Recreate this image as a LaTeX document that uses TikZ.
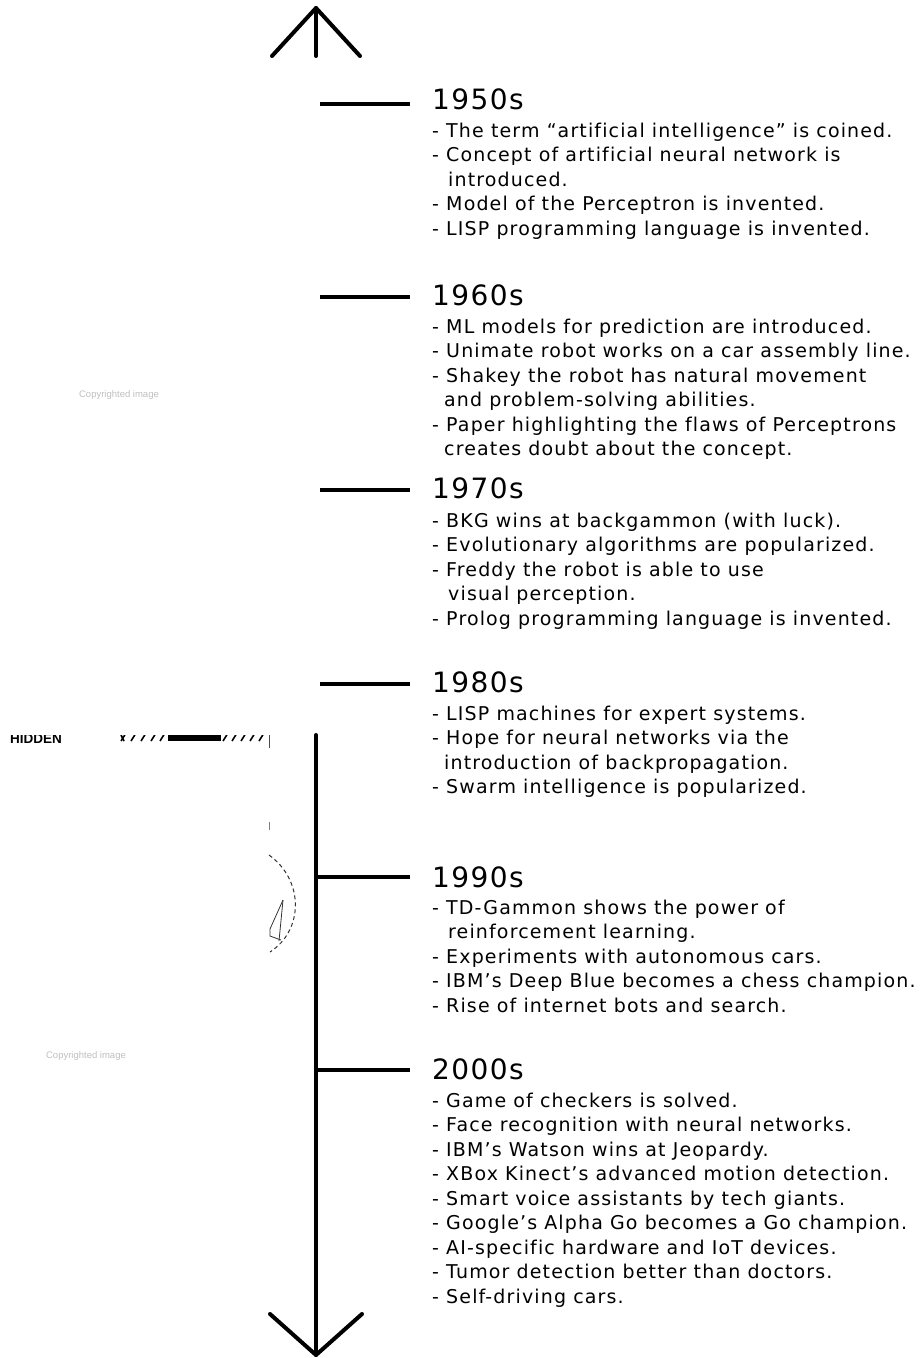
\documentclass[tikz,border=0pt]{standalone}
\usepackage{fontspec}
\setmainfont{DejaVu Sans}
\newfontfamily\itemfont[LetterSpace=6,Ligatures={NoCommon}]{DejaVu Sans}
\newfontfamily\erafont[LetterSpace=5]{DejaVu Sans}
\newfontfamily\notefont{Liberation Sans}
\begin{document}
\begin{tikzpicture}[x=1pt,y=-1pt,
  axis/.style={line width=4pt, line cap=round, line join=round},
  era/.style={anchor=base west, inner sep=0pt, font=\erafont\fontsize{28}{28}\selectfont},
  item/.style={anchor=base west, inner sep=0pt, font=\itemfont\fontsize{19}{19}\selectfont},
  faint/.style={text=black!25, inner sep=0pt, font=\notefont\fontsize{9.5}{9.5}\selectfont},
  sketch/.style={line width=1pt, black!80}]
\useasboundingbox (0,0) rectangle (922,1358);

% ---- axis: upper arrow head, lower part of the line and lower arrow head
\coordinate (toptip) at (316,8);
\coordinate (topl) at (272,56);
\coordinate (topr) at (360,56);
\coordinate (topstem) at (316,56);
\draw[axis] (topl) -- (toptip) -- (topr);
\draw[axis] (toptip) -- (topstem);

\coordinate (vtop) at (316,735);
\coordinate (vbot) at (316,1355);
\coordinate (botl) at (270,1314);
\coordinate (botr) at (362,1314);
\draw[axis] (vtop) -- (vbot);
\draw[axis] (botl) -- (vbot) -- (botr);

% ---- decade ticks
\foreach \n/\y in {a/104,b/297,c/490,d/684}{
  \coordinate (\n0) at (320,\y);
  \coordinate (\n1) at (410,\y);
  \draw[axis, line cap=butt] (\n0) -- (\n1);
}
\foreach \n/\y in {e/877,f/1070}{
  \coordinate (\n0) at (316,\y);
  \coordinate (\n1) at (410,\y);
  \draw[axis, line cap=butt] (\n0) -- (\n1);
}

% ---- decade headings
\node[era] (h50) at (432,109) {1950s};
\node[era] (h60) at (432,305) {1960s};
\node[era] (h70) at (432,498) {1970s};
\node[era] (h80) at (432,692) {1980s};
\node[era] (h90) at (432,887) {1990s};
\node[era] (h00) at (432,1079) {2000s};

% ---- events, one line per node; an indented line continues the item above
\newcommand\eventlines[3]{%
  \foreach \t [count=\i from 0] in {#3}{
    \node[item] (#1-\i) at (432,#2+24.5*\i) {\t};
  }}
\newcommand\cont{\hspace*{16pt}}
\newcommand\contb{\hspace*{12pt}}

\eventlines{e50}{137}{
  {- The term “artificial intelligence” is coined.},
  {- Concept of artificial neural network is},
  {\cont introduced.},
  {- Model of the Perceptron is invented.},
  {- LISP programming language is invented.}}

\eventlines{e60}{333}{
  {- ML models for prediction are introduced.},
  {- Unimate robot works on a car assembly line.},
  {- Shakey the robot has natural movement},
  {\contb and problem-solving abilities.},
  {- Paper highlighting the flaws of Perceptrons},
  {\contb creates doubt about the concept.}}

\eventlines{e70}{527}{
  {- BKG wins at backgammon (with luck).},
  {- Evolutionary algorithms are popularized.},
  {- Freddy the robot is able to use},
  {\cont visual perception.},
  {- Prolog programming language is invented.}}

\eventlines{e80}{720}{
  {- LISP machines for expert systems.},
  {- Hope for neural networks via the},
  {\contb introduction of backpropagation.},
  {- Swarm intelligence is popularized.}}

\eventlines{e90}{914}{
  {- TD-Gammon shows the power of},
  {\cont reinforcement learning.},
  {- Experiments with autonomous cars.},
  {- IBM’s Deep Blue becomes a chess champion.},
  {- Rise of internet bots and search.}}

\eventlines{e00}{1107}{
  {- Game of checkers is solved.},
  {- Face recognition with neural networks.},
  {- IBM’s Watson wins at Jeopardy.},
  {- XBox Kinect’s advanced motion detection.},
  {- Smart voice assistants by tech giants.},
  {- Google’s Alpha Go becomes a Go champion.},
  {- AI-specific hardware and IoT devices.},
  {- Tumor detection better than doctors.},
  {- Self-driving cars.}}

% ---- faint marks at the left
\node[faint] (cr1) at (119,395) {Copyrighted image};
\node[faint] (cr2) at (86,1056) {Copyrighted image};

\begin{scope}
  \clip (0,735) rectangle (300,760);
  \node[anchor=base west, inner sep=0pt, font=\notefont\bfseries\fontsize{13.5}{13.5}\selectfont] (hid) at (10,743) {HIDDEN};
  \fill (168,733) rectangle (221,741);
  \foreach \x in {121,131,141,151,160}{ \draw[line width=1.6pt] (\x,741) -- (\x+5,733); }
  \foreach \x in {223,232,241,250,259}{ \draw[line width=1.6pt] (\x,741) -- (\x+5,733); }
  \draw[line width=1.6pt] (121,735) -- (124,741);
\end{scope}
\coordinate (pa) at (269,735);
\coordinate (pb) at (269,748);
\draw[line width=0.8pt, black!70] (pa) -- (pb);
\coordinate (pc) at (269,822);
\coordinate (pd) at (269,830);
\draw[line width=0.6pt, black!50] (pc) -- (pd);

\coordinate (arcA) at (269,855);
\coordinate (arcB) at (270,952);
\draw[sketch, dashed, dash pattern=on 4pt off 3pt] (arcA) .. controls (304,880) and (304,930) .. (arcB);
\coordinate (g1) at (283,900);
\coordinate (g2) at (270,929);
\coordinate (g3) at (270,936);
\coordinate (g4) at (281,940);
\coordinate (g5) at (279,941);
\draw[sketch, line width=0.8pt] (g1) -- (g2) -- (g3) -- (g4);
\draw[sketch, line width=0.8pt] (g1) -- (g5);
\end{tikzpicture}
\end{document}
